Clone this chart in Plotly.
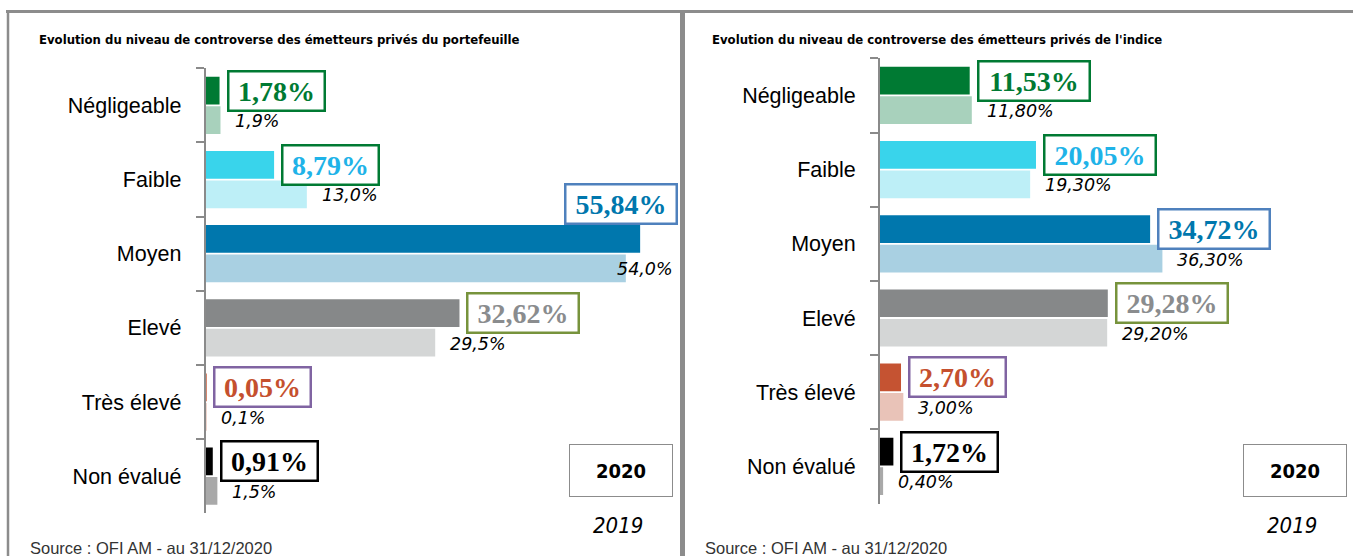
import plotly.graph_objects as go

# ---------------- data ----------------
categories = ["Négligeable", "Faible", "Moyen", "Elevé", "Très élevé", "Non évalué"]
portfolio_2020 = [1.78, 8.79, 55.84, 32.62, 0.05, 0.91]
portfolio_2019 = [1.9, 13.0, 54.0, 29.5, 0.1, 1.5]
index_2020 = [11.53, 20.05, 34.72, 29.28, 2.70, 1.72]
index_2019 = [11.80, 19.30, 36.30, 29.20, 3.00, 0.40]
title_left = "Evolution du niveau de controverse des émetteurs privés du portefeuille"
title_right = "Evolution du niveau de controverse des émetteurs privés de l'indice"
source_text = "Source : OFI AM - au 31/12/2020"
year_now, year_prev = "2020", "2019"

# ---------------- styles ----------------
colors_2020 = ["#007A33", "#39D4EB", "#0077AD", "#868889", "#C55332", "#000000"]
colors_2019 = ["#A8D1BC", "#BDEFF7", "#A9D0E2", "#D4D6D6", "#E9C3B8", "#A9A9A9"]
label_colors = ["#007A33", "#1FB3E8", "#0077AD", "#8A8C8E", "#C5502E", "#000000"]
box_colors = ["#007A33", "#007A33", "#4F81BD", "#77933C", "#8064A2", "#000000"]

W, H = 1353, 556
PX_PER_UNIT = 7.78
left_x0, right_x0 = 205.7, 880.0
plot_w = 470.3
XMAX = plot_w / PX_PER_UNIT
left_ytop, left_ybot = 68.3, 513.3
right_ytop, right_ybot = 58.3, 503.5
BARGAP, GROUPGAP = 0.205, 0.06
OFF = (1 - BARGAP) / 4.0   # centre offset of each bar from category centre

fig = go.Figure()

panels = [
    dict(v20=portfolio_2020, v19=portfolio_2019, dec19=1, xa="x", ya="y",
         x0=left_x0, ytop=left_ytop, ybot=left_ybot, title=title_left,
         tx=37, srcx=28, legx=621),
    dict(v20=index_2020, v19=index_2019, dec19=2, xa="x2", ya="y2",
         x0=right_x0, ytop=right_ytop, ybot=right_ybot, title=title_right,
         tx=710, srcx=703, legx=1295),
]


def fmt(v, d):
    return f"{v:.{d}f}".replace(".", ",") + "%"


annotations = []
for k, p in enumerate(panels):
    fig.add_trace(go.Bar(y=categories, x=p["v20"], orientation="h",
                         marker=dict(color=colors_2020, line=dict(width=0)),
                         xaxis=p["xa"], yaxis=p["ya"], hoverinfo="skip",
                         showlegend=False, name=year_now))
    fig.add_trace(go.Bar(y=categories, x=p["v19"], orientation="h",
                         marker=dict(color=colors_2019, line=dict(width=0)),
                         xaxis=p["xa"], yaxis=p["ya"], hoverinfo="skip",
                         showlegend=False, name=year_prev))
    for i, cat in enumerate(categories):
        v = p["v20"][i]
        txt = fmt(v, 2)
        bw = 90 if len(txt) <= 5 else 105
        end_px = v * PX_PER_UNIT
        if end_px + 7 + bw + 6 > plot_w + 4:
            ann = dict(x=XMAX, xanchor="right", xshift=2, yshift=35)
        else:
            ann = dict(x=v, xanchor="left", xshift=7, yshift=0)
        annotations.append(dict(
            **ann, y=i - OFF, xref=p["xa"], yref=p["ya"],
            text=f"<b>{txt}</b>", showarrow=False, yanchor="middle",
            width=bw, height=33, borderpad=2, borderwidth=2.5,
            bordercolor=box_colors[i], bgcolor="white",
            font=dict(family="Liberation Serif", size=28, color=label_colors[i])))
        v = p["v19"][i]
        txt = fmt(v, p["dec19"])
        tw = 11 * len(txt)
        end_px = v * PX_PER_UNIT
        if end_px + 14 + tw > plot_w + 2:
            ann = dict(x=XMAX, xanchor="right", xshift=-1)
        else:
            ann = dict(x=v, xanchor="left", xshift=13)
        annotations.append(dict(
            **ann, y=i + OFF, xref=p["xa"], yref=p["ya"], yanchor="middle",
            yshift=-1, text=txt, showarrow=False,
            font=dict(family="DejaVu Sans", size=17.5, color="#000000",
                      style="italic", weight=200)))
    # title
    annotations.append(dict(x=p["tx"] / W, y=1 - 39 / H, xref="paper", yref="paper",
                            xanchor="left", yanchor="middle", showarrow=False,
                            text=f"<b>{p['title']}</b>",
                            font=dict(family="DejaVu Sans Condensed", size=13, color="#000")))
    # source
    annotations.append(dict(x=p["srcx"] / W, y=1 - 548 / H, xref="paper", yref="paper",
                            xanchor="left", yanchor="middle", showarrow=False,
                            text=source_text,
                            font=dict(family="Liberation Sans", size=16.5, color="#333")))
    # year key
    annotations.append(dict(x=p["legx"] / W, y=1 - 470 / H, xref="paper", yref="paper",
                            xanchor="center", yanchor="middle", showarrow=False,
                            text=f"<b>{year_now}</b>", width=102, height=51, borderpad=0,
                            borderwidth=1, bordercolor="#8c8c8c",
                            font=dict(family="DejaVu Sans Condensed", size=20, color="#000")))
    annotations.append(dict(x=(p["legx"] - 3) / W, y=1 - 525 / H, xref="paper", yref="paper",
                            xanchor="center", yanchor="middle", showarrow=False,
                            text=f"<i>{year_prev}</i>",
                            font=dict(family="DejaVu Sans Condensed", size=22, color="#000")))

axis_common = dict(type="category", categoryorder="array", categoryarray=categories,
                   autorange="reversed", showline=True, linecolor="#8a8a8a", linewidth=2,
                   ticks="outside", tickson="boundaries", ticklen=8, tickwidth=2,
                   tickcolor="#8a8a8a", showgrid=False, zeroline=False,
                   ticklabelstandoff=18,
                   tickfont=dict(family="Liberation Sans", size=21.5, color="#000"),
                   fixedrange=True)
xaxis_common = dict(range=[0, XMAX], visible=False, fixedrange=True)

fig.update_layout(
    width=W, height=H, margin=dict(l=0, r=0, t=0, b=0),
    paper_bgcolor="white", plot_bgcolor="white",
    barmode="group", bargap=BARGAP, bargroupgap=GROUPGAP,
    xaxis=dict(**xaxis_common, domain=[left_x0 / W, (left_x0 + plot_w) / W], anchor="y"),
    yaxis=dict(**axis_common, domain=[1 - left_ybot / H, 1 - left_ytop / H], anchor="x"),
    xaxis2=dict(**xaxis_common, domain=[right_x0 / W, (right_x0 + plot_w) / W], anchor="y2"),
    yaxis2=dict(**axis_common, domain=[1 - right_ybot / H, 1 - right_ytop / H], anchor="x2"),
    annotations=annotations,
    shapes=[
        dict(type="line", xref="paper", yref="paper", x0=6 / W, x1=1, y0=1 - 11.5 / H,
             y1=1 - 11.5 / H, line=dict(color="#8c8c8c", width=3)),
        dict(type="line", xref="paper", yref="paper", x0=8 / W, x1=8 / W, y0=0,
             y1=1 - 10 / H, line=dict(color="#8c8c8c", width=2.5)),
        dict(type="line", xref="paper", yref="paper", x0=682.5 / W, x1=682.5 / W, y0=0,
             y1=1 - 10 / H, line=dict(color="#8c8c8c", width=5)),
    ],
)

fig.write_html("out.html", config={"displayModeBar": False},
               post_script="document.body.style.margin='0';document.body.style.overflow='hidden';")
